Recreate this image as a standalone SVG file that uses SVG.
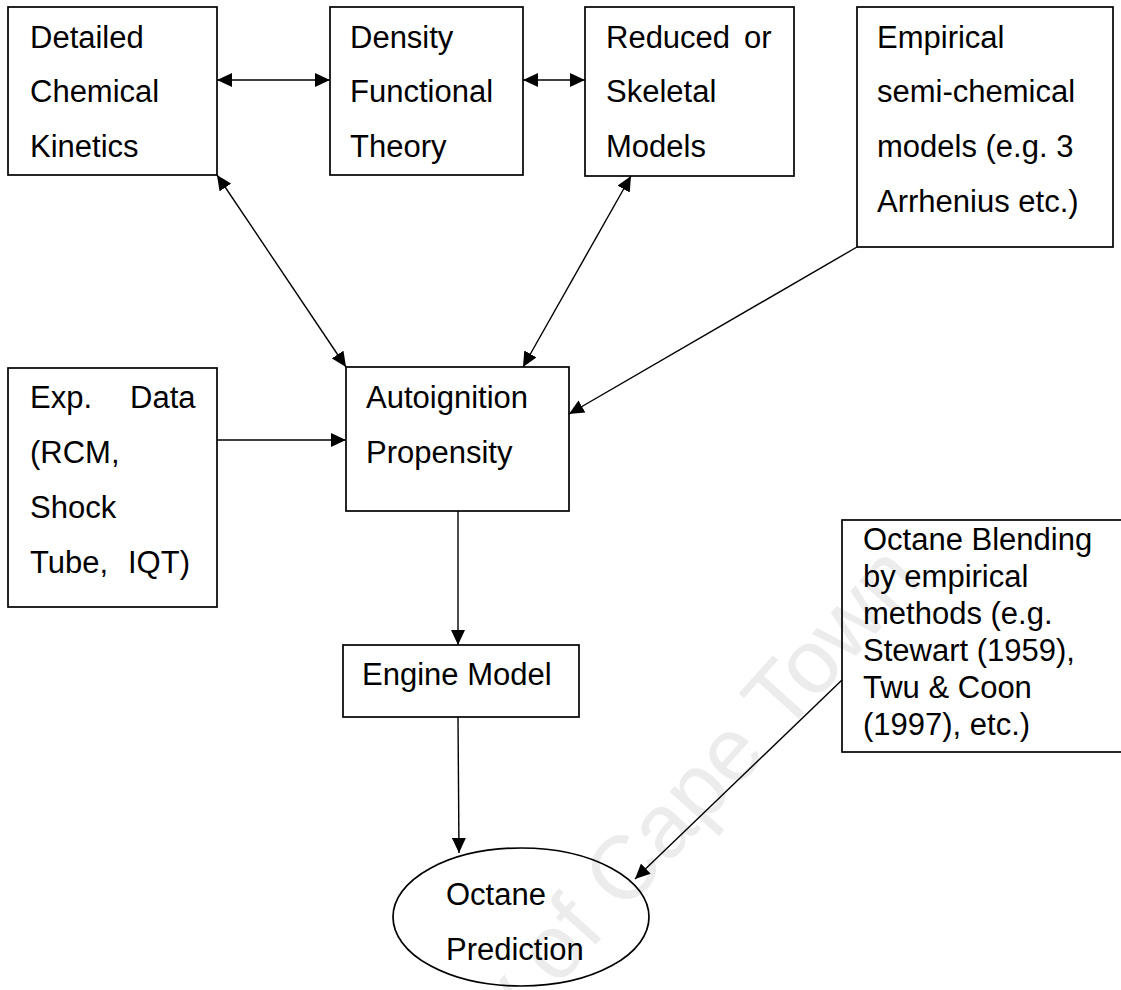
<svg xmlns="http://www.w3.org/2000/svg" width="1121" height="990" viewBox="0 0 1121 990">
<style>
.box{fill:none;stroke:#000;stroke-width:1.7}
.t{font-family:"Liberation Sans",Arial,sans-serif;font-size:31px;fill:#000}
.c{fill:none;stroke:#000;stroke-width:1.4}
.wm{font-family:"Liberation Sans",Arial,sans-serif;font-size:90px;fill:#ececec}
</style>
<defs>
<marker id="ah" markerUnits="userSpaceOnUse" markerWidth="16" markerHeight="14" refX="15" refY="7" orient="auto-start-reverse" viewBox="0 0 16 14">
<path d="M0,0 L15,7 L0,14 Z" fill="#000"/>
</marker>
</defs>
<rect width="1121" height="990" fill="#fff"/>
<text class="wm" x="600" y="940" text-anchor="middle" transform="rotate(-48 600 940)">University of Cape Town</text>

<g id="detailed">
<rect class="box" x="8" y="7" width="209" height="168"/>
<text class="t" x="30" y="48">Detailed</text>
<text class="t" x="30" y="102">Chemical</text>
<text class="t" x="30" y="157">Kinetics</text>
</g>
<g id="dft">
<rect class="box" x="330" y="7" width="193" height="168"/>
<text class="t" x="350" y="48">Density</text>
<text class="t" x="350" y="102">Functional</text>
<text class="t" x="350" y="157">Theory</text>
</g>
<g id="reduced">
<rect class="box" x="585" y="7" width="209" height="169"/>
<text class="t" y="48"><tspan x="606">Reduced</tspan><tspan x="744">or</tspan></text>
<text class="t" x="606" y="102">Skeletal</text>
<text class="t" x="606" y="157">Models</text>
</g>
<g id="empirical">
<rect class="box" x="857" y="7" width="256" height="240"/>
<text class="t" x="877" y="48">Empirical</text>
<text class="t" x="877" y="102">semi-chemical</text>
<text class="t" x="877" y="157">models (e.g. 3</text>
<text class="t" x="877" y="212">Arrhenius etc.)</text>
</g>
<g id="expdata">
<rect class="box" x="8" y="368" width="209" height="239"/>
<text class="t" y="408"><tspan x="30">Exp.</tspan><tspan x="130">Data</tspan></text>
<text class="t" x="30" y="463">(RCM,</text>
<text class="t" x="30" y="518">Shock</text>
<text class="t" y="573"><tspan x="30">Tube,</tspan><tspan x="128">IQT)</tspan></text>
</g>
<g id="autoignition">
<rect class="box" x="346" y="367" width="223" height="144"/>
<text class="t" x="366" y="408">Autoignition</text>
<text class="t" x="366" y="463">Propensity</text>
</g>
<g id="engine">
<rect class="box" x="343" y="645" width="236" height="72"/>
<text class="t" x="362" y="685">Engine Model</text>
</g>
<g id="blending">
<rect class="box" x="842" y="520" width="290" height="232"/>
<text class="t" x="863" y="550">Octane Blending</text>
<text class="t" x="863" y="587">by empirical</text>
<text class="t" x="863" y="624">methods (e.g.</text>
<text class="t" x="863" y="661">Stewart (1959),</text>
<text class="t" x="863" y="698">Twu &amp; Coon</text>
<text class="t" x="863" y="735">(1997), etc.)</text>
</g>
<g id="octane">
<ellipse class="box" cx="521" cy="917" rx="128" ry="69"/>
<text class="t" x="446" y="905">Octane</text>
<text class="t" x="446" y="960">Prediction</text>
</g>

<g id="connectors">
<line class="c" x1="217" y1="80" x2="330" y2="80" marker-start="url(#ah)" marker-end="url(#ah)"/>
<line class="c" x1="523" y1="80" x2="585" y2="80" marker-start="url(#ah)" marker-end="url(#ah)"/>
<line class="c" x1="217" y1="175" x2="346" y2="367" marker-start="url(#ah)" marker-end="url(#ah)"/>
<line class="c" x1="631" y1="176" x2="523" y2="367" marker-start="url(#ah)" marker-end="url(#ah)"/>
<line class="c" x1="857" y1="247" x2="569" y2="414" marker-end="url(#ah)"/>
<line class="c" x1="217" y1="440" x2="346" y2="440" marker-end="url(#ah)"/>
<line class="c" x1="458" y1="511" x2="458" y2="645" marker-end="url(#ah)"/>
<line class="c" x1="458" y1="717" x2="459" y2="853" marker-end="url(#ah)"/>
<line class="c" x1="842" y1="680" x2="635" y2="879" marker-end="url(#ah)"/>
</g>
</svg>
